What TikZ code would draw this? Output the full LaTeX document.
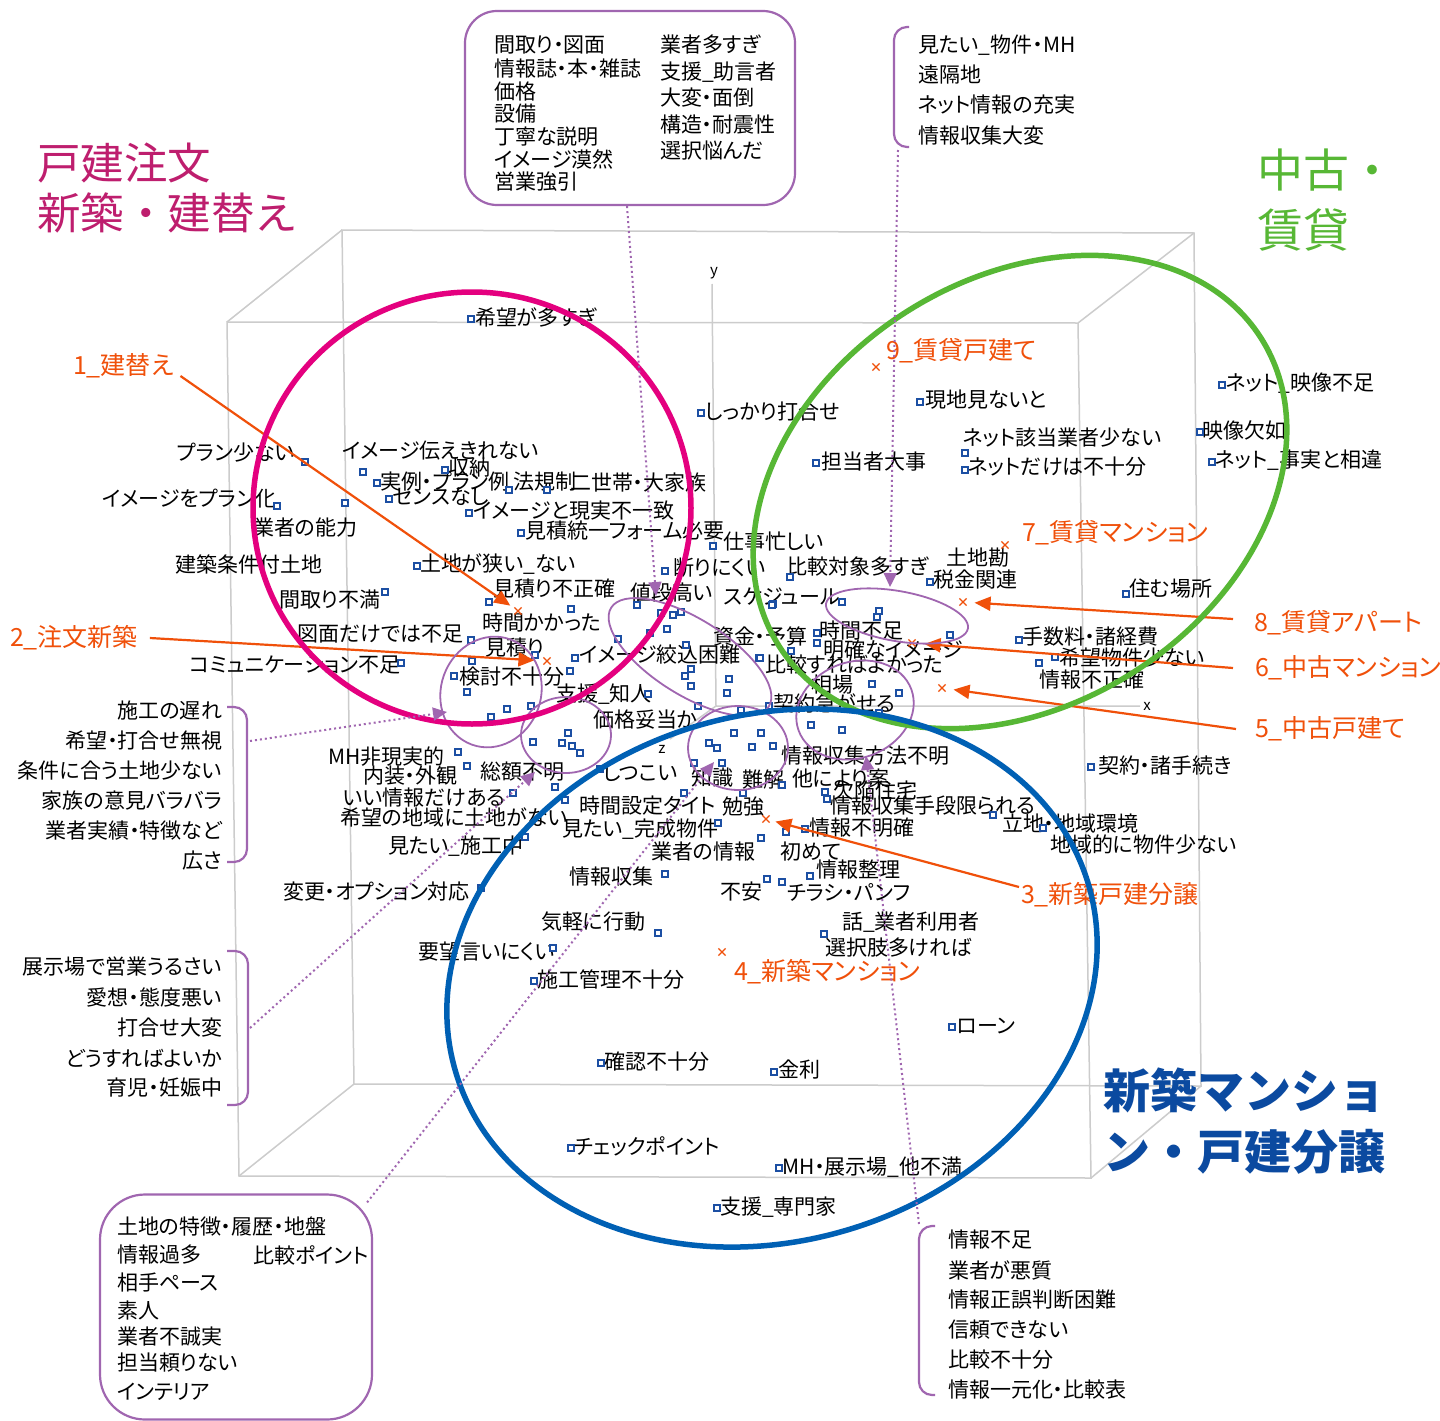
\documentclass[tikz,border=0pt]{standalone}
\usepackage{fontspec}
\setmainfont{Noto Sans CJK JP}[RawFeature=+palt]
\newfontfamily\tfont{Noto Sans CJK JP}
\usetikzlibrary{arrows.meta,shapes.misc}
\definecolor{mag}{HTML}{E4007F}
\definecolor{magt}{HTML}{BE1E6E}
\definecolor{grn}{HTML}{57B735}
\definecolor{blu}{HTML}{0060B4}
\definecolor{blut}{HTML}{0B4AA0}
\definecolor{org}{HTML}{F0500A}
\definecolor{pur}{HTML}{A066B0}
\definecolor{cubec}{HTML}{CCCCCC}
\definecolor{mkb}{HTML}{1C4FA3}
\begin{document}
\begin{tikzpicture}[x=1pt,y=-1pt,
  mk/.style={draw=mkb, fill=white, line width=1.3pt, minimum size=6pt, inner sep=0pt, outer sep=0pt},
  lab/.style={anchor=west, inner sep=0pt, outer sep=0pt, font=\fontsize{21}{22}\selectfont},
  rlab/.style={anchor=east, inner sep=0pt, outer sep=0pt, font=\fontsize{21}{22}\selectfont},
  clab/.style={anchor=west, inner sep=0pt, outer sep=0pt, text=org, font=\fontsize{25}{26}\selectfont},
  ttl/.style={anchor=west, inner sep=0pt, outer sep=0pt},
  axl/.style={inner sep=0pt, font=\fontsize{15}{16}\selectfont},
  xm/.style={cross out, draw=org, line width=1.2pt, minimum size=6pt, inner sep=0pt},
  oarr/.style={draw=org, line width=2.2pt, -{Triangle[length=16pt,width=14pt]}},
  parr/.style={draw=pur, line width=2pt, dash pattern=on 2pt off 3pt, -{Triangle[length=14pt,width=13pt]}},
  cubeln/.style={draw=cubec, line width=1.5pt},
  bigel/.style={line width=5.5pt},
  smel/.style={draw=pur, line width=1.8pt},
  pbox/.style={draw=pur, line width=2.2pt, inner sep=0pt},
  brk/.style={draw=pur, line width=2.2pt, rounded corners=13pt},
]
\fill[white] (0,0) rectangle (1440,1421);
\useasboundingbox (0,0) rectangle (1440,1421);

% ---------- cube ----------
\coordinate (fTL) at (227,322); \coordinate (fTR) at (1078,323);
\coordinate (fBR) at (1091,1178); \coordinate (fBL) at (239,1176);
\coordinate (bTL) at (342,230); \coordinate (bTR) at (1194,233);
\coordinate (bBR) at (1201,1086); \coordinate (bBL) at (354,1084);
\draw[cubeln] (fTL) -- (fTR) -- (fBR) -- (fBL) -- cycle;
\draw[cubeln] (bTL) -- (bTR) -- (bBR) -- (bBL) -- cycle;
\draw[cubeln] (fTL) -- (bTL) (fTR) -- (bTR) (fBR) -- (bBR) (fBL) -- (bBL);
% axes
\coordinate (org0) at (716,706);
\node[axl] (ylab) at (714,273) {y};
\node[axl] (xlab) at (1147,706) {x};
\node[axl] (zlab) at (662,749) {z};
\draw[cubeln] (712,284) -- (org0) -- (1140,706);
\draw[cubeln] (org0) -- (670,739);

% ---------- titles ----------
\node[ttl, text=magt, font=\tfont\fontsize{43.5}{48}\selectfont] (t1a) at (37,163) {戸建注文};
\node[ttl, text=magt, font=\tfont\fontsize{43.5}{48}\selectfont] (t1b) at (37,213) {新築・建替え};
\node[ttl, text=grn, font=\tfont\fontsize{46}{50}\selectfont] (t2a) at (1257,170) {中古・};
\node[ttl, text=grn, font=\tfont\fontsize{46}{50}\selectfont] (t2b) at (1257,230) {賃貸};
\node[ttl, text=blut, font=\tfont\fontsize{47}{50}\selectfont\bfseries] (t3a) at (1103,1090) {新築マンショ};
\node[ttl, text=blut, font=\tfont\fontsize{47}{50}\selectfont\bfseries] (t3b) at (1103,1152) {ン・戸建分譲};

% ---------- point labels ----------
\node[lab] (n1) at (475,317) {希望が多すぎ};
\node[lab] (n2) at (705,412) {しっかり打合せ};
\node[lab] (n3) at (177,453) {プラン少ない};
\node[lab] (n4) at (342,451) {イメージ伝えきれない};
\node[lab] (n5) at (448,468) {収納};
\node[lab] (n6) at (380,482) {実例・プラン例};
\node[lab] (n7) at (513,482) {法規制};
\node[lab] (n8) at (570,483) {二世帯・大家族};
\node[lab] (n9) at (393,497) {センスなし};
\node[lab] (n10) at (102,499) {イメージをプラン化};
\node[lab] (n11) at (473,511) {イメージと現実不一致};
\node[lab] (n12) at (253,528) {業者の能力};
\node[lab] (n13) at (525,531) {見積統一フォーム必要};
\node[lab] (n14) at (723,542) {仕事忙しい};
\node[lab] (n15) at (175,564) {建築条件付土地};
\node[lab] (n16) at (420,564) {土地が狭い\_ない};
\node[lab] (n17) at (673,568) {断りにくい};
\node[lab] (n18) at (786,567) {比較対象多すぎ};
\node[lab] (n19) at (946,558) {土地勘};
\node[lab] (n20) at (933,580) {税金関連};
\node[lab] (n21) at (1129,589) {住む場所};
\node[lab] (n22) at (493,589) {見積り不正確};
\node[lab] (n23) at (279,600) {間取り不満};
\node[lab] (n24) at (630,593) {値段高い};
\node[lab] (n25) at (724,597) {スケジュール};
\node[lab] (n26) at (482,623) {時間かかった};
\node[lab] (n27) at (297,634) {図面だけでは不足};
\node[lab] (n28) at (713,636) {資金・予算};
\node[lab] (n29) at (819,631) {時間不足};
\node[lab] (n30) at (1022,637) {手数料・諸経費};
\node[lab] (n31) at (485,648) {見積り};
\node[lab] (n32) at (823,650) {明確なイメージ};
\node[lab] (n33) at (579,655) {イメージ絞込困難};
\node[lab] (n34) at (1059,658) {希望物件少ない};
\node[lab] (n35) at (190,665) {コミュニケーション不足};
\node[lab] (n36) at (765,665) {比較すればよかった};
\node[lab] (n37) at (1039,680) {情報不正確};
\node[lab] (n38) at (459,677) {検討不十分};
\node[lab] (n39) at (811,685) {相場};
\node[lab] (n40) at (556,694) {支援\_知人};
\node[lab] (n41) at (773,703) {契約急がせる};
\node[lab] (n42) at (593,720) {価格妥当か};
\node[lab] (n43) at (328,757) {MH非現実的};
\node[lab] (n44) at (363,776) {内装・外観};
\node[lab] (n45) at (480,772) {総額不明};
\node[lab] (n46) at (343,798) {いい情報だけある};
\node[lab] (n47) at (340,817) {希望の地域に土地がない};
\node[lab] (n48) at (388,846) {見たい\_施工中};
\node[lab] (n49) at (283,892) {変更・オプション対応};
\node[lab] (n50) at (603,773) {しつこい};
\node[lab] (n51) at (691,778) {知識};
\node[lab] (n52) at (742,780) {難解};
\node[lab] (n53) at (792,779) {他により案};
\node[lab] (n54) at (833,790) {欠陥住宅};
\node[lab] (n55) at (781,756) {情報収集方法不明};
\node[lab] (n56) at (1098,766) {契約・諸手続き};
\node[lab] (n57) at (579,806) {時間設定タイト};
\node[lab] (n58) at (722,807) {勉強};
\node[lab] (n59) at (830,806) {情報収集手段限られる};
\node[lab] (n60) at (1002,824) {立地・地域環境};
\node[lab] (n61) at (1050,844) {地域的に物件少ない};
\node[lab] (n62) at (562,829) {見たい\_完成物件};
\node[lab] (n63) at (809,828) {情報不明確};
\node[lab] (n64) at (651,852) {業者の情報};
\node[lab] (n65) at (780,852) {初めて};
\node[lab] (n66) at (816,870) {情報整理};
\node[lab] (n67) at (569,877) {情報収集};
\node[lab] (n68) at (720,892) {不安};
\node[lab] (n69) at (787,892) {チラシ・パンフ};
\node[lab] (n70) at (541,922) {気軽に行動};
\node[lab] (n71) at (842,922) {話\_業者利用者};
\node[lab] (n72) at (825,948) {選択肢多ければ};
\node[lab] (n73) at (418,952) {要望言いにくい};
\node[lab] (n74) at (537,980) {施工管理不十分};
\node[lab] (n75) at (957,1026) {ローン};
\node[lab] (n76) at (604,1062) {確認不十分};
\node[lab] (n77) at (778,1070) {金利};
\node[lab] (n78) at (574,1146) {チェックポイント};
\node[lab] (n79) at (782,1167) {MH・展示場\_他不満};
\node[lab] (n80) at (720,1207) {支援\_専門家};
\node[lab] (n81) at (1226,383) {ネット\_映像不足};
\node[lab] (n82) at (925,400) {現地見ないと};
\node[lab] (n83) at (1202,430) {映像欠如};
\node[lab] (n84) at (963,438) {ネット該当業者少ない};
\node[lab] (n85) at (821,462) {担当者大事};
\node[lab] (n86) at (968,467) {ネットだけは不十分};
\node[lab] (n87) at (1215,460) {ネット\_事実と相違};

% ---------- markers ----------
\foreach \px/\py [count=\i] in {471/319, 701/413, 305/462, 363/472, 445/470, 377/483, 389/499, 469/513, 277/506, 345/503, 509/490, 547/490, 521/533, 713/546, 417/566, 665/571, 489/602, 571/609, 637/605, 661/613, 673/615, 681/612, 385/592, 471/640, 472/661, 401/663, 454/676, 467/692, 491/717, 507/709, 531/706, 535/655, 575/658, 570/671, 648/694, 667/629, 650/633, 618/639, 686/645, 691/669, 685/676, 691/686, 729/679, 727/693, 698/706, 741/710, 759/658, 773/604, 790/577, 842/602, 817/633, 817/643, 791/651, 879/611, 877/617, 950/635, 872/684, 899/693, 879/713, 842/730, 811/725, 769/706, 761/733, 734/733, 709/743, 717/748, 752/747, 773/746, 533/742, 562/743, 572/746, 580/753, 568/733, 458/752, 930/582, 920/402, 1222/385, 1200/432, 816/463, 965/453, 965/470, 1212/462, 1126/594, 1019/640, 1055/657, 1039/663, 772/605, 760/658, 467/766, 513/793, 481/888, 600/769, 555/787, 565/800, 684/793, 694/763, 722/763, 743/793, 782/785, 825/792, 827/799, 993/815, 1043/828, 525/837, 718/823, 761/838, 786/832, 805/829, 810/876, 665/874, 767/879, 782/882, 658/933, 824/934, 553/948, 534/981, 1091/767, 952/1027, 601/1063, 774/1072, 571/1148, 779/1168, 717/1208}
  \node[mk] (m\i) at (\px,\py) {};

% ---------- category crosses and labels ----------
\node[xm] (x1) at (518,611) {};
\node[xm] (x2) at (547,661) {};
\node[xm] (x3) at (766,819) {};
\node[xm] (x4) at (722,952) {};
\node[xm] (x5) at (942,688) {};
\node[xm] (x6) at (912,643) {};
\node[xm] (x7) at (1005,545) {};
\node[xm] (x8) at (963,602) {};
\node[xm] (x9) at (876,367) {};
\node[clab] (c1) at (73,366) {1\_建替え};
\node[clab] (c2) at (10,638) {2\_注文新築};
\node[clab] (c3) at (1021,895) {3\_新築戸建分譲};
\node[clab] (c4) at (734,972) {4\_新築マンション};
\node[clab] (c5) at (1255,729) {5\_中古戸建て};
\node[clab] (c6) at (1255,668) {6\_中古マンション};
\node[clab] (c7) at (1022,533) {7\_賃貸マンション};
\node[clab] (c8) at (1254,623) {8\_賃貸アパート};
\node[clab] (c9) at (886,351) {9\_賃貸戸建て};
\draw[oarr, shorten >=5pt] ([shift={(7,10)}]c1.east) -- (x1);
\draw[oarr, shorten >=9pt] ([xshift=12pt]c2.east) -- (x2);
\draw[oarr, shorten >=6pt] ([shift={(-2,-8)}]c3.west) -- (x3);
\draw[oarr, shorten >=8pt] ([xshift=-19pt]c5.west) -- (x5);
\draw[oarr, shorten >=9pt] ([xshift=-22pt]c6.west) -- (x6);
\draw[oarr, shorten >=8pt] ([shift={(-21,-4)}]c8.west) -- (x8);

% ---------- small purple ellipses ----------
\draw[smel, rotate around={-20:(491,692)}] (491,692) ellipse [x radius=50pt, y radius=56pt];
\draw[smel] (566,735) ellipse [x radius=45pt, y radius=38pt];
\draw[smel, rotate around={-32:(690,657)}] (690,657) ellipse [x radius=93pt, y radius=38pt];
\draw[smel] (738,748) ellipse [x radius=50pt, y radius=42pt];
\draw[smel, rotate around={-10:(897,616)}] (897,616) ellipse [x radius=72pt, y radius=25pt];
\draw[smel, rotate around={20:(855,710)}] (855,710) ellipse [x radius=60pt, y radius=48pt];

% ---------- big ellipses ----------
\draw[bigel, mag] (472,508) ellipse [x radius=219pt, y radius=216pt];
\draw[bigel, grn, rotate around={32.7:(1020,492)}] (1020,492) ellipse [x radius=286pt, y radius=213pt];
\draw[bigel, blu, rotate around={16.5:(772,978)}] (772,978) ellipse [x radius=330pt, y radius=263pt];

% ---------- callout: top box ----------
\node[pbox, rounded corners=32pt, minimum width=330pt, minimum height=194pt] (bx1) at (630,108) {};
\node[lab] (a1) at (494,45) {間取り・図面};
\node[lab] (a2) at (494,68) {情報誌・本・雑誌};
\node[lab] (a3) at (494,92) {価格};
\node[lab] (a4) at (494,114) {設備};
\node[lab] (a5) at (494,137) {丁寧な説明};
\node[lab] (a6) at (494,159) {イメージ漠然};
\node[lab] (a7) at (494,182) {営業強引};
\node[lab] (a8) at (660,45) {業者多すぎ};
\node[lab] (a9) at (660,72) {支援\_助言者};
\node[lab] (a10) at (660,98) {大変・面倒};
\node[lab] (a11) at (660,125) {構造・耐震性};
\node[lab] (a12) at (660,151) {選択悩んだ};
\coordinate (pe1) at (656,596);
\draw[parr] ([xshift=-3pt]bx1.south) -- (pe1);

% ---------- callout: top-right bracket ----------
\draw[brk] (909,27) -- (894,27) -- (894,147) -- (909,147);
\coordinate (bk1) at (898,150);
\node[lab] (b1) at (918,45) {見たい\_物件・MH};
\node[lab] (b2) at (918,75) {遠隔地};
\node[lab] (b3) at (918,105) {ネット情報の充実};
\node[lab] (b4) at (918,136) {情報収集大変};
\coordinate (pe2) at (890,587);
\draw[parr] (bk1) -- (pe2);

% ---------- callout: left bracket 1 ----------
\draw[brk] (227,707) -- (247,707) -- (247,862) -- (227,862);
\coordinate (bk2) at (250,741);
\node[rlab] (d1) at (222,711) {施工の遅れ};
\node[rlab] (d2) at (222,741) {希望・打合せ無視};
\node[rlab] (d3) at (222,771) {条件に合う土地少ない};
\node[rlab] (d4) at (222,801) {家族の意見バラバラ};
\node[rlab] (d5) at (222,831) {業者実績・特徴など};
\node[rlab] (d6) at (222,861) {広さ};
\coordinate (pe3) at (447,712);
\draw[parr] (bk2) -- (pe3);

% ---------- callout: left bracket 2 ----------
\draw[brk] (227,951) -- (248,951) -- (248,1105) -- (227,1105);
\coordinate (bk3) at (250,1028);
\node[rlab] (e1) at (222,967) {展示場で営業うるさい};
\node[rlab] (e2) at (222,997) {愛想・態度悪い};
\node[rlab] (e3) at (222,1028) {打合せ大変};
\node[rlab] (e4) at (222,1058) {どうすればよいか};
\node[rlab] (e5) at (222,1088) {育児・妊娠中};
\coordinate (pe4) at (535,772);
\draw[parr] (bk3) -- (pe4);

% ---------- callout: bottom-left box ----------
\node[pbox, rounded corners=45pt, minimum width=272pt, minimum height=225pt] (bx2) at (236,1307) {};
\node[lab] (f1) at (117,1227) {土地の特徴・履歴・地盤};
\node[lab] (f2) at (117,1255) {情報過多};
\node[lab] (f3) at (253,1255) {比較ポイント};
\node[lab] (f4) at (117,1282) {相手ペース};
\node[lab] (f5) at (117,1310) {素人};
\node[lab] (f6) at (117,1337) {業者不誠実};
\node[lab] (f7) at (117,1363) {担当頼りない};
\node[lab] (f8) at (117,1392) {インテリア};
\coordinate (pe5) at (714,762);
\draw[parr] ([shift={(-6,9)}]bx2.north east) -- (pe5);

% ---------- callout: bottom-right bracket ----------
\draw[brk] (935,1226) -- (919,1226) -- (919,1395) -- (935,1395);
\coordinate (bk4) at (919,1224);
\node[lab] (g1) at (948,1240) {情報不足};
\node[lab] (g2) at (948,1270) {業者が悪質};
\node[lab] (g3) at (948,1300) {情報正誤判断困難};
\node[lab] (g4) at (948,1330) {信頼できない};
\node[lab] (g5) at (948,1360) {比較不十分};
\node[lab] (g6) at (948,1390) {情報一元化・比較表};
\coordinate (pe6) at (866,756);
\draw[parr] (bk4) -- (pe6);
\end{tikzpicture}
\end{document}
